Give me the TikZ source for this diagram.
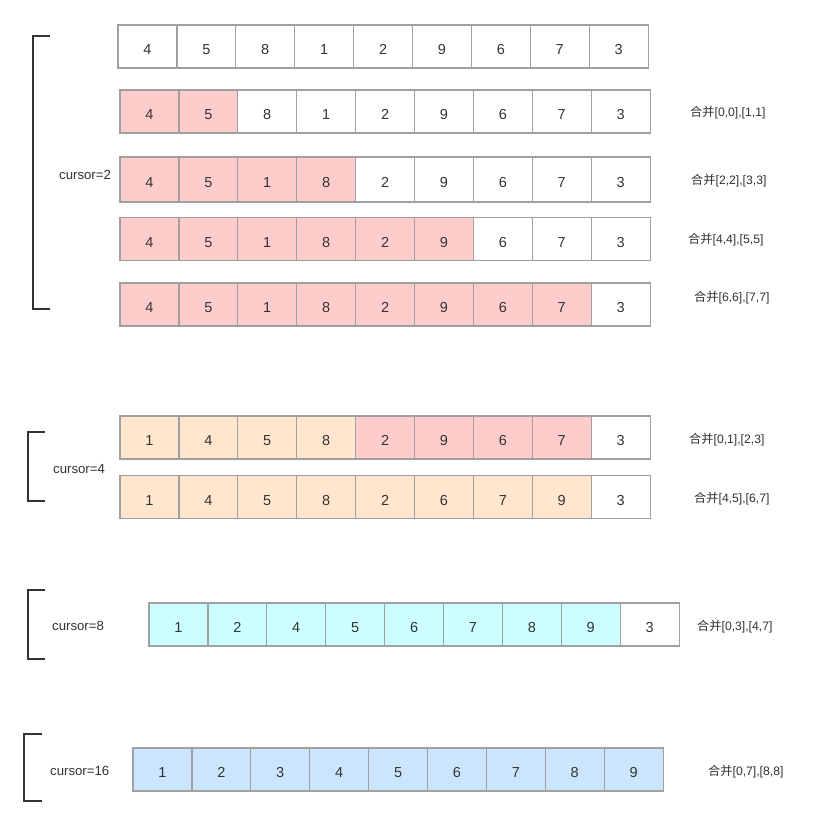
\documentclass[tikz,border=0pt]{standalone}
\usepackage{fontspec}
\setmainfont{Liberation Sans}
\newfontfamily\cjk{Noto Sans CJK SC}
\definecolor{cellline}{HTML}{A0A0A0}
\definecolor{txt}{HTML}{333333}
\definecolor{pinkc}{HTML}{FFCCCC}
\definecolor{peachc}{HTML}{FFE6CC}
\definecolor{cyanc}{HTML}{CCFFFF}
\definecolor{bluec}{HTML}{CCE5FF}
\definecolor{brk}{HTML}{333333}
\newcommand\hb{{\cjk 合并}}
\begin{document}
\begin{tikzpicture}[x=1pt,y=-1pt,
  cell/.style={draw=cellline,line width=1.2pt,minimum width=58.9pt,minimum height=43pt,inner sep=0pt,text height=16.4pt,text depth=0pt,text=txt,font=\fontsize{14.5}{16}\selectfont},
  fwhite/.style={fill=white},
  fpink/.style={fill=pinkc},
  fpeach/.style={fill=peachc},
  fcyan/.style={fill=cyanc},
  fblue/.style={fill=bluec},
  lab/.style={anchor=west,inner sep=0pt,text=txt,font=\fontsize{12.2}{14}\selectfont},
  cur/.style={anchor=west,inner sep=0pt,text=txt,font=\fontsize{13.2}{15}\selectfont},
  bracket/.style={draw=brk,line width=2pt}]
\useasboundingbox (0,0) rectangle (835,826);
\fill[white] (0,0) rectangle (835,826);
% row 0
\foreach \v/\s [count=\i] in {4/fwhite,5/fwhite,8/fwhite,1/fwhite,2/fwhite,9/fwhite,6/fwhite,7/fwhite,3/fwhite}
  \node[cell,\s] (a\i) at ({118+58.9*(\i-0.5)},46.5) {\v};
% row 1
\foreach \v/\s [count=\i] in {4/fpink,5/fpink,8/fwhite,1/fwhite,2/fwhite,9/fwhite,6/fwhite,7/fwhite,3/fwhite}
  \node[cell,\s] (b\i) at ({120+58.9*(\i-0.5)},111.5) {\v};
% row 2
\foreach \v/\s [count=\i] in {4/fpink,5/fpink,1/fpink,8/fpink,2/fwhite,9/fwhite,6/fwhite,7/fwhite,3/fwhite}
  \node[cell,\s,minimum height=45pt] (c\i) at ({120+58.9*(\i-0.5)},179.5) {\v};
% row 3
\foreach \v/\s [count=\i] in {4/fpink,5/fpink,1/fpink,8/fpink,2/fpink,9/fpink,6/fwhite,7/fwhite,3/fwhite}
  \node[cell,\s] (d\i) at ({120+58.9*(\i-0.5)},239) {\v};
% row 4
\foreach \v/\s [count=\i] in {4/fpink,5/fpink,1/fpink,8/fpink,2/fpink,9/fpink,6/fpink,7/fpink,3/fwhite}
  \node[cell,\s] (e\i) at ({120+58.9*(\i-0.5)},304.5) {\v};
% row 5
\foreach \v/\s [count=\i] in {1/fpeach,4/fpeach,5/fpeach,8/fpeach,2/fpink,9/fpink,6/fpink,7/fpink,3/fwhite}
  \node[cell,\s] (f\i) at ({120+58.9*(\i-0.5)},437.5) {\v};
% row 6
\foreach \v/\s [count=\i] in {1/fpeach,4/fpeach,5/fpeach,8/fpeach,2/fpeach,6/fpeach,7/fpeach,9/fpeach,3/fwhite}
  \node[cell,\s] (g\i) at ({120+58.9*(\i-0.5)},497) {\v};
% row 7
\foreach \v/\s [count=\i] in {1/fcyan,2/fcyan,4/fcyan,5/fcyan,6/fcyan,7/fcyan,8/fcyan,9/fcyan,3/fwhite}
  \node[cell,\s] (h\i) at ({149+58.9*(\i-0.5)},624.5) {\v};
% row 8
\foreach \v/\s [count=\i] in {1/fblue,2/fblue,3/fblue,4/fblue,5/fblue,6/fblue,7/fblue,8/fblue,9/fblue}
  \node[cell,\s] (k\i) at ({133+58.9*(\i-0.5)},769.5) {\v};
% right labels
\node[lab] (l1) at (690,113) {\hb[0,0],[1,1]};
\node[lab] (l2) at (691,181) {\hb[2,2],[3,3]};
\node[lab] (l3) at (688,240) {\hb[4,4],[5,5]};
\node[lab] (l4) at (694,298) {\hb[6,6],[7,7]};
\node[lab] (l5) at (689,440) {\hb[0,1],[2,3]};
\node[lab] (l6) at (694,499) {\hb[4,5],[6,7]};
\node[lab] (l7) at (697,627) {\hb[0,3],[4,7]};
\node[lab] (l8) at (708,772) {\hb[0,7],[8,8]};
% cursor labels
\node[cur] (u1) at (59,175) {cursor=2};
\node[cur] (u2) at (53,469) {cursor=4};
\node[cur] (u3) at (52,626) {cursor=8};
\node[cur] (u4) at (50,771) {cursor=16};
% brackets
\coordinate (p1a) at (50,36);  \coordinate (p1b) at (33,36);
\coordinate (p1c) at (33,309); \coordinate (p1d) at (50,309);
\draw[bracket] (p1a) -- (p1b) -- (p1c) -- (p1d);
\coordinate (p2a) at (45,432); \coordinate (p2b) at (28,432);
\coordinate (p2c) at (28,501); \coordinate (p2d) at (45,501);
\draw[bracket] (p2a) -- (p2b) -- (p2c) -- (p2d);
\coordinate (p3a) at (45,590); \coordinate (p3b) at (28,590);
\coordinate (p3c) at (28,659); \coordinate (p3d) at (45,659);
\draw[bracket] (p3a) -- (p3b) -- (p3c) -- (p3d);
\coordinate (p4a) at (42,734); \coordinate (p4b) at (24,734);
\coordinate (p4c) at (24,801); \coordinate (p4d) at (42,801);
\draw[bracket] (p4a) -- (p4b) -- (p4c) -- (p4d);
\end{tikzpicture}
\end{document}
